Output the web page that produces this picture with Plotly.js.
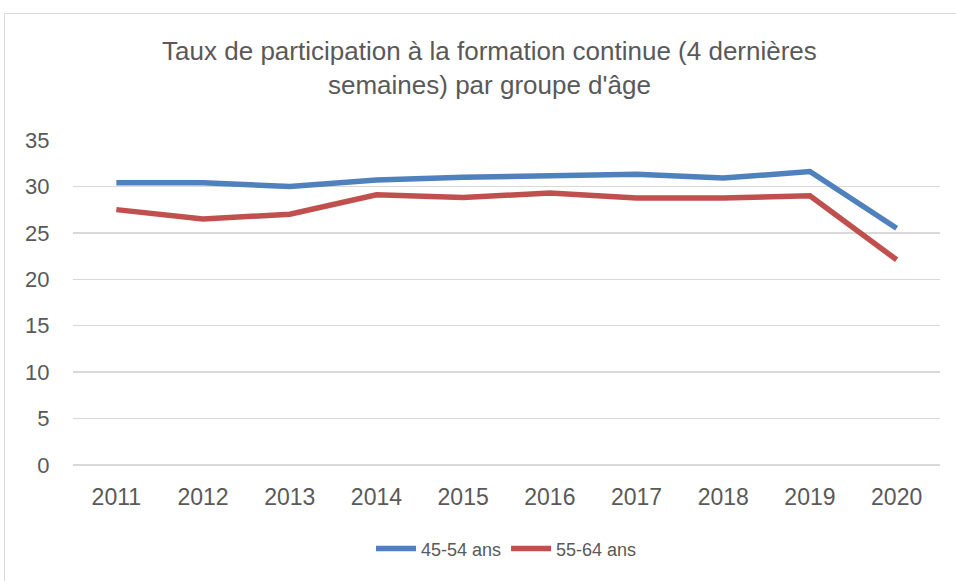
<!DOCTYPE html>
<html>
<head>
<meta charset="utf-8">
<script src="https://cdn.plot.ly/plotly-3.0.1.min.js"></script>
<style>
  html, body { margin: 0; padding: 0; background: #fff; }
  #wrap { position: relative; width: 956px; height: 581px; overflow: hidden; }
  #frame { position: absolute; left: 4px; top: 13px; width: 1000px; height: 700px; border: 1px solid #d9d9d9; box-sizing: border-box; pointer-events: none; z-index: 2; }
  #chart { position: absolute; left: 0; top: 0; width: 956px; height: 581px; }
</style>
</head>
<body>
<div id="wrap">
  <div id="chart"></div>
  <div id="frame"></div>
</div>
<script>
const years = ['2011','2012','2013','2014','2015','2016','2017','2018','2019','2020'];
const series1Name = '45-54 ans';
const series1 = [30.4, 30.4, 30.0, 30.7, 31.0, 31.2, 31.3, 30.9, 31.6, 25.5];
const series2Name = '55-64 ans';
const series2 = [27.5, 26.5, 27.0, 29.1, 28.8, 29.3, 28.75, 28.75, 29.0, 22.1];
const yTicks = [0, 5, 10, 15, 20, 25, 30, 35];
const chartTitle = "Taux de participation à la formation continue (4 dernières<br>semaines) par groupe d'âge";

const font = 'Liberation Sans Narrow, Arial Narrow, Liberation Sans, sans-serif';
const traces = [
  { x: years, y: series1, name: series1Name, type: 'scatter', mode: 'lines',
    line: { color: '#4F81BD', width: 5.5 } },
  { x: years, y: series2, name: series2Name, type: 'scatter', mode: 'lines',
    line: { color: '#C0504D', width: 5.5 } }
];
const layout = {
  width: 956, height: 581,
  margin: { l: 73, r: 16, t: 140, b: 116 },
  paper_bgcolor: '#fff', plot_bgcolor: '#fff',
  font: { family: font, color: '#595959', size: 22 },
  title: { text: chartTitle, x: 0.512, xanchor: 'center', y: 0.896, yanchor: 'top',
           font: { family: font, size: 26, color: '#595959' } },
  xaxis: { type: 'category', range: [-0.5, 9.5], showgrid: false, zeroline: false,
           showline: false, ticks: 'outside', ticklen: 11, tickcolor: 'rgba(0,0,0,0)',
           tickfont: { family: font, size: 23, color: '#595959' }, fixedrange: true },
  yaxis: { range: [0, 35], tickvals: yTicks, ticktext: yTicks.map(String),
           showgrid: true, gridcolor: '#d9d9d9', gridwidth: 1.5,
           zeroline: true, zerolinecolor: '#d9d9d9', zerolinewidth: 1.5,
           showline: false, ticks: 'outside', ticklen: 18, tickcolor: 'rgba(0,0,0,0)',
           tickfont: { family: font, size: 22, color: '#595959' }, fixedrange: true },
  showlegend: true,
  legend: { orientation: 'h', x: 0.5, xanchor: 'center', y: -0.258, yanchor: 'middle',
            font: { family: font, size: 18, color: '#595959' }, itemwidth: 40,
            bgcolor: 'rgba(0,0,0,0)' }
};
Plotly.newPlot('chart', traces, layout, { displayModeBar: false, staticPlot: true });
</script>
</body>
</html>
